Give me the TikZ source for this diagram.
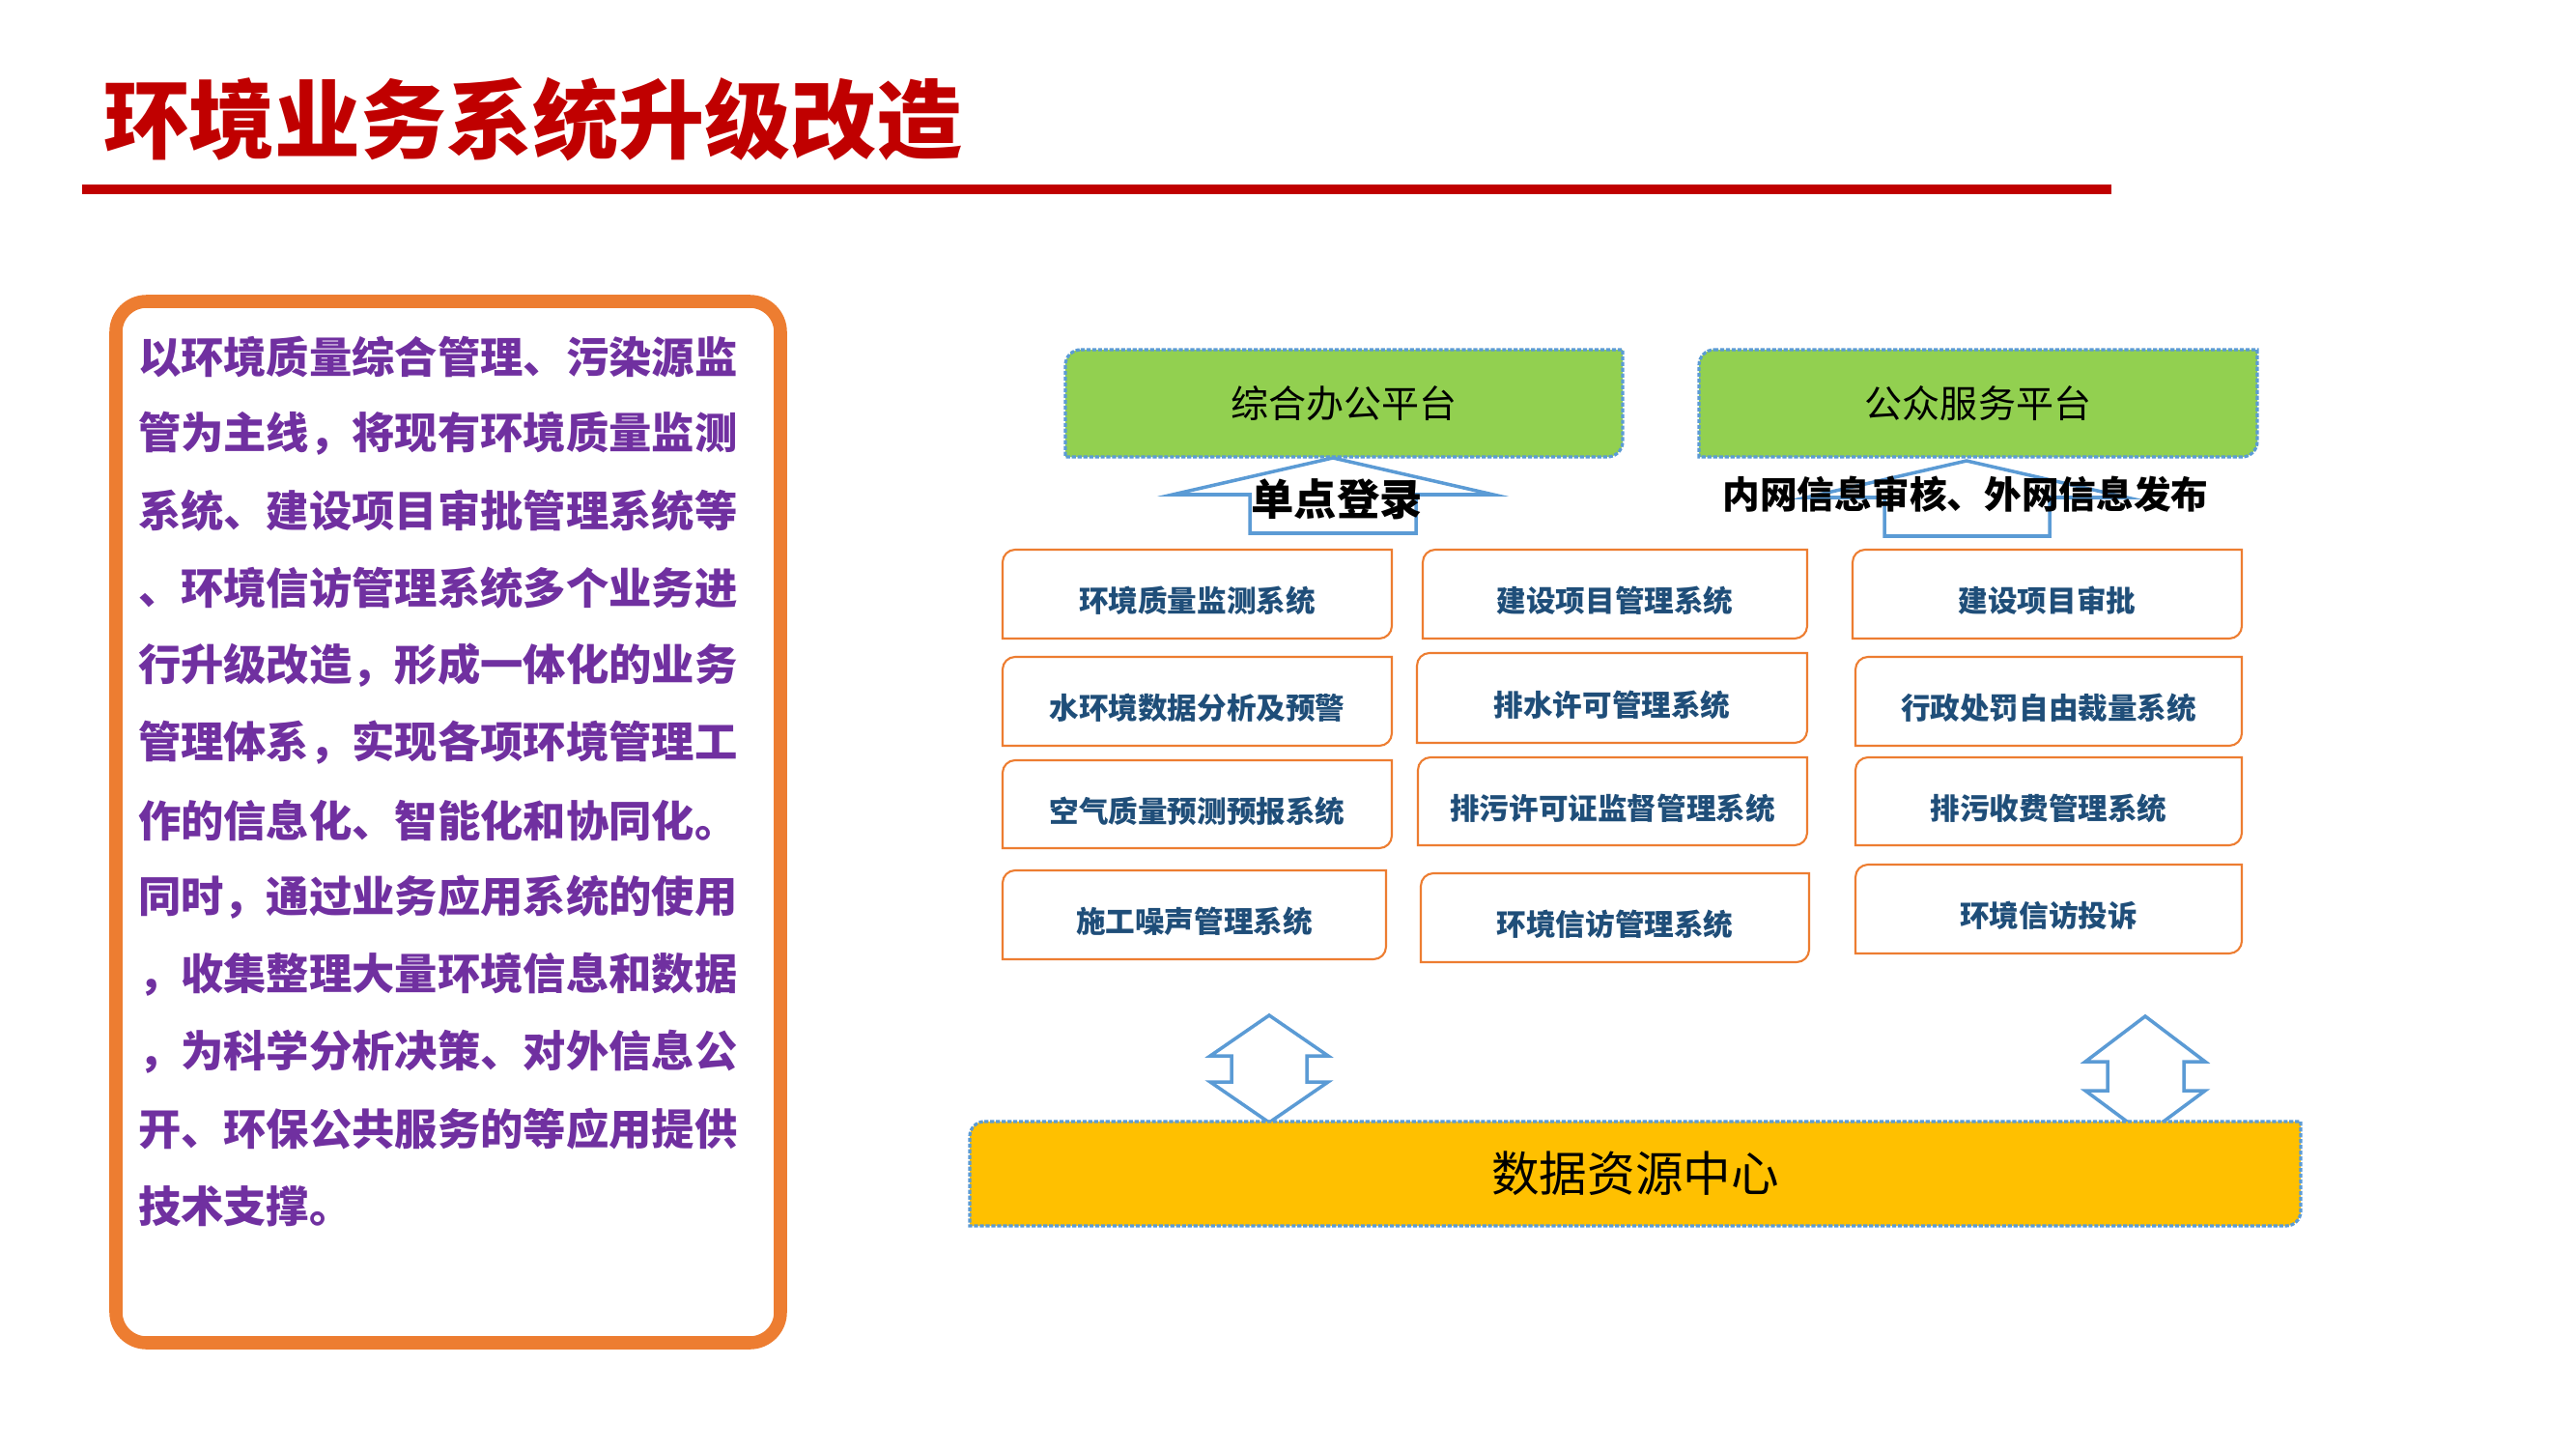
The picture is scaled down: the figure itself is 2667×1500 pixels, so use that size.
\documentclass[tikz,border=0pt]{standalone}
\usepackage{fontspec}
\setmainfont{Noto Sans CJK SC}
\usetikzlibrary{fit}
\definecolor{titlered}{HTML}{C00000}
\definecolor{orangeb}{HTML}{ED7D31}
\definecolor{purpletxt}{HTML}{7030A0}
\definecolor{bluel}{HTML}{5B9BD5}
\definecolor{greenf}{HTML}{92D050}
\definecolor{yellowf}{HTML}{FFC000}
\definecolor{navytxt}{HTML}{1F4E79}
\newcommand\drbox[3]{%
  \path[#1] ([xshift=#3]#2.north west) -- (#2.north east) -- ([yshift=#3]#2.south east)
    arc[start angle=0,end angle=-90,radius=#3] -- (#2.south west) -- ([yshift=-#3]#2.north west)
    arc[start angle=180,end angle=90,radius=#3] -- cycle;}
\newcommand\sysb[6]{%
  \node[fit={(#2,#3) (#4,#5)}] (#1) {};
  \drbox{sysline}{#1}{3.7pt}
  \node[systext] (#1t) at ([yshift=-2pt]#1.center) {#6};}
\tikzset{
  every node/.style={inner sep=0pt, outer sep=0pt},
  ttl/.style={anchor=west, text=titlered, font=\fontsize{25.3pt}{27pt}\selectfont\bfseries},
  para/.style={anchor=west, text=purpletxt, font=\fontsize{12.6pt}{14pt}\selectfont\bfseries},
  systext/.style={text=navytxt, font=\fontsize{8.7pt}{10pt}\selectfont\bfseries},
  sysline/.style={draw=orangeb, line width=0.6pt},
  plattext/.style={font=\fontsize{11.1pt}{13pt}\selectfont, text=black},
  platline/.style={draw=bluel, line width=0.9pt, dash pattern=on 1.2pt off 0.5pt},
  blockarrow/.style={draw=bluel, line width=1pt, line join=miter},
  lbl/.style={text=black},
}
\begin{document}
\begin{tikzpicture}[x=0.01cm, y=-0.01cm]
\path[use as bounding box, fill=white] (0,0) rectangle (2667,1500);

% title
\node[ttl] (title) at (107,124) {环境业务系统升级改造};
\coordinate (rl0) at (85,196);
\coordinate (rl1) at (2186,196);
\draw[titlered, line width=2.6pt] (rl0) -- (rl1);

% left text panel
\coordinate (lb0) at (120,312);
\coordinate (lb1) at (808,1390);
\draw[orangeb, line width=3.85pt, rounded corners=9pt] (lb0) rectangle (lb1);
\foreach \t [count=\i from 0] in {以环境质量综合管理、污染源监, 管为主线，将现有环境质量监测, 系统、建设项目审批管理系统等, 、环境信访管理系统多个业务进, 行升级改造，形成一体化的业务, 管理体系，实现各项环境管理工, 作的信息化、智能化和协同化。, 同时，通过业务应用系统的使用, ，收集整理大量环境信息和数据, ，为科学分析决策、对外信息公, 开、环保公共服务的等应用提供, 技术支撑。}
  \node[para] (p\i) at (143,369+80*\i) {\t};

% up arrows (behind labels)
\draw[blockarrow] (1380,474) -- (1546,512) -- (1466,512) -- (1466,552) -- (1294,552) -- (1294,512) -- (1214,512) -- cycle;
\draw[blockarrow] (2036,477) -- (2202,515) -- (2122,515) -- (2122,555) -- (1951,555) -- (1951,515) -- (1870,515) -- cycle;

% platforms
\node[fit={(1103,362) (1680,473)}] (oa) {};
\drbox{fill=greenf}{oa}{4.5pt}
\drbox{platline}{oa}{4.5pt}
\node[plattext] (oat) at (oa.center) {综合办公平台};
\node[fit={(1759,362) (2337,473)}] (ps) {};
\drbox{fill=greenf}{ps}{4.5pt}
\drbox{platline}{ps}{4.5pt}
\node[plattext] (pst) at (ps.center) {公众服务平台};

\node[lbl, font=\fontsize{12.6pt}{14pt}\selectfont\bfseries] (sso) at (1384,517) {单点登录};
\node[lbl, font=\fontsize{11pt}{13pt}\selectfont\bfseries] (pub) at (2035,512) {内网信息审核、外网信息发布};

% systems
\sysb{a1}{1038}{569}{1441}{661}{环境质量监测系统}
\sysb{b1}{1473}{569}{1871}{661}{建设项目管理系统}
\sysb{c1}{1918}{569}{2321}{661}{建设项目审批}
\sysb{a2}{1038}{680}{1441}{772}{水环境数据分析及预警}
\sysb{b2}{1467}{676}{1871}{769}{排水许可管理系统}
\sysb{c2}{1921}{680}{2321}{772}{行政处罚自由裁量系统}
\sysb{a3}{1038}{787}{1441}{878}{空气质量预测预报系统}
\sysb{b3}{1468}{784}{1871}{875}{排污许可证监督管理系统}
\sysb{c3}{1921}{784}{2321}{875}{排污收费管理系统}
\sysb{a4}{1038}{901}{1435}{993}{施工噪声管理系统}
\sysb{b4}{1471}{904}{1873}{996}{环境信访管理系统}
\sysb{c4}{1921}{895}{2321}{987}{环境信访投诉}

% double arrows
\draw[blockarrow] (1314,1051) -- (1375,1093) -- (1353,1093) -- (1353,1120) -- (1375,1120) -- (1314,1162) -- (1253,1120) -- (1275,1120) -- (1275,1093) -- (1253,1093) -- cycle;
\draw[blockarrow] (2221,1052) -- (2283,1099) -- (2261,1099) -- (2261,1129) -- (2283,1129) -- (2221,1175) -- (2159,1129) -- (2182,1129) -- (2182,1099) -- (2159,1099) -- cycle;

% data centre
\node[fit={(1004,1161) (2382,1269)}] (dc) {};
\drbox{fill=yellowf}{dc}{4.3pt}
\drbox{platline}{dc}{4.3pt}
\node[font=\fontsize{14.1pt}{16pt}\selectfont, text=black] (dct) at (dc.center) {数据资源中心};
\end{tikzpicture}
\end{document}
